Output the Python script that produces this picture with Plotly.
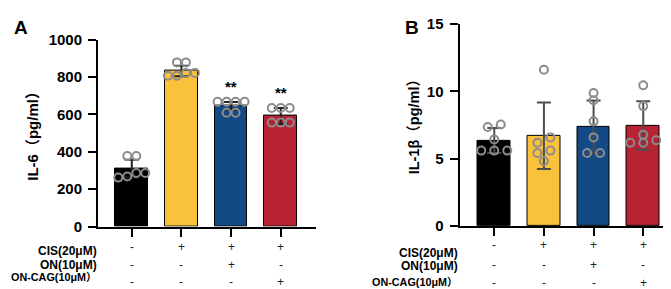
import plotly.graph_objects as go

# ---------------- data ----------------
GROUPS = ["Control", "CIS", "CIS+ON", "CIS+ON-CAG"]
IL6_MEAN = [310, 832, 646, 591]
IL6_SD = [48, 28, 20, 43]
IL6_POINTS = [
    [262, 287, 268, 287, 377, 377],
    [807, 822, 807, 822, 878, 878],
    [668, 668, 668, 668, 609, 609],
    [634, 634, 634, 556, 556, 556],
]
IL1B_MEAN = [6.35, 6.70, 7.38, 7.47]
IL1B_SD = [0.93, 2.47, 1.93, 1.80]
IL1B_POINTS = [
    [5.60, 5.60, 5.60, 6.42, 7.35, 7.54],
    [11.60, 6.58, 6.19, 5.60, 5.42, 4.83],
    [9.87, 9.33, 7.77, 6.58, 5.42, 5.42],
    [10.45, 8.90, 6.19, 6.37, 6.77, 6.19],
]
SIG_A = ["", "", "**", "**"]
ROW_LABELS = ["CIS(20μM)", "ON(10μM)", "ON-CAG(10μM）"]
ROW_SIGNS = [
    ["-", "+", "+", "+"],
    ["-", "-", "+", "-"],
    ["-", "-", "-", "+"],
]
YTITLE_A = "IL-6（pg/ml）"
YTITLE_B = "IL-1β（pg/ml）"

# ---------------- style / layout ----------------
W, H = 671, 289
COLORS = ["#000000", "#FAC13C", "#134A86", "#B82232"]
PT_COLOR = "#8C8C8C"
FONT = "Liberation Sans, Arial, Noto Sans CJK SC, sans-serif"

A_X = (90, 308); A_Y = (24, 222.7); A_XR = [-0.68, 3.71]; A_YR = [0, 1000]
B_X = (451.5, 670); B_Y = (7.3, 222.2); B_XR = [-0.70, 3.70]; B_YR = [0, 15]
ROW_FONT_SIZES = [12, 12, 10.8]


def px_x(p):
    return p / W


def px_y(p):
    return 1 - p / H


def swarm(values, px_per_unit, px_per_cat, eps_px, step_px):
    """Row-based swarm: values close in pixel space share a centred row."""
    order = sorted(range(len(values)), key=lambda i: values[i])
    offs = [0.0] * len(values)
    rows, cur = [], []
    for i in order:
        if cur and (values[i] - values[cur[0]]) * px_per_unit >= eps_px:
            rows.append(cur)
            cur = []
        cur.append(i)
    if cur:
        rows.append(cur)
    for r in rows:
        n = len(r)
        for k, i in enumerate(r):
            offs[i] = (k - (n - 1) / 2) * step_px / px_per_cat
    return offs


fig = go.Figure()


def add_panel(means, sds, points, xa, ya, xdom, ydom, xr, yr, err_color, step_px):
    px_unit = (ydom[1] - ydom[0]) / (yr[1] - yr[0])
    px_cat = (xdom[1] - xdom[0]) / (xr[1] - xr[0])
    xs = list(range(len(means)))
    fig.add_trace(go.Bar(
        x=xs, y=means, width=0.66, xaxis=xa, yaxis=ya,
        marker=dict(color=COLORS, line=dict(color="#000000", width=1)),
        error_y=dict(type="data", array=sds, visible=True, color=err_color,
                     thickness=2, width=7),
        showlegend=False, hoverinfo="skip",
    ))
    for gi, vals in enumerate(points):
        offs = swarm(vals, px_unit, px_cat, 6, step_px)
        fig.add_trace(go.Scatter(
            x=[gi + o for o in offs], y=vals, mode="markers",
            xaxis=xa, yaxis=ya, cliponaxis=False, showlegend=False,
            marker=dict(symbol="circle-open", size=8, color=PT_COLOR,
                        line=dict(width=2)),
        ))


add_panel(IL6_MEAN, IL6_SD, IL6_POINTS, "x", "y", A_X, A_Y, A_XR, A_YR, "#222222", 9)
add_panel(IL1B_MEAN, IL1B_SD, IL1B_POINTS, "x2", "y2", B_X, B_Y, B_XR, B_YR, "#4D4D4D", 13)

axis_common = dict(showline=True, linecolor="#000000", linewidth=2,
                   ticks="outside", tickwidth=2, tickcolor="#000000",
                   showgrid=False, zeroline=False)
tickfont = dict(family=FONT, size=15, color="#000000", weight="bold")

fig.update_layout(
    width=W, height=H, margin=dict(l=0, r=0, t=0, b=0),
    paper_bgcolor="white", plot_bgcolor="white", bargap=0,
    xaxis=dict(domain=[px_x(A_X[0]), px_x(A_X[1])], range=A_XR,
               tickvals=[0, 1, 2, 3], showticklabels=False, ticklen=8,
               anchor="y", **axis_common),
    yaxis=dict(domain=[px_y(A_Y[1]), px_y(A_Y[0])], range=A_YR, dtick=200,
               ticklen=8, tickfont=tickfont, ticklabelstandoff=3, anchor="x",
               **axis_common),
    xaxis2=dict(domain=[px_x(B_X[0]), px_x(B_X[1])], range=B_XR,
                tickvals=[0, 1, 2, 3], showticklabels=False, ticklen=8,
                anchor="y2", **axis_common),
    yaxis2=dict(domain=[px_y(B_Y[1]), px_y(B_Y[0])], range=B_YR, dtick=5,
                ticklen=8, tickfont=tickfont, ticklabelstandoff=3, anchor="x2",
                **axis_common),
)

ann = []
bold = lambda s: dict(family=FONT, size=s, color="#000000", weight="bold")
# panel letters
ann.append(dict(text="A", x=px_x(13), y=px_y(11.5), xref="paper", yref="paper",
                showarrow=False, font=bold(19), xanchor="center", yanchor="middle"))
ann.append(dict(text="B", x=px_x(404), y=px_y(11), xref="paper", yref="paper",
                showarrow=False, font=bold(19), xanchor="center", yanchor="middle"))
# y titles
ann.append(dict(text=YTITLE_A, x=px_x(25), y=px_y(123), xref="paper", yref="paper",
                showarrow=False, textangle=-90, font=bold(15),
                xanchor="center", yanchor="middle"))
ann.append(dict(text=YTITLE_B, x=px_x(406), y=px_y(113), xref="paper", yref="paper",
                showarrow=False, textangle=-90, font=bold(14.5),
                xanchor="center", yanchor="middle"))
# significance
for i, s in enumerate(SIG_A):
    if s:
        ann.append(dict(text=s, x=i, y=IL6_MEAN[i] + IL6_SD[i], xref="x", yref="y",
                        showarrow=False, font=bold(15), yanchor="bottom", yshift=5))
# treatment table
LBL_Y = {"A": [248.3, 263.3, 276.7], "B": [250.7, 265.0, 281.7]}
SGN_Y = {"A": [244.5, 263.3, 281.7], "B": [242.7, 263.3, 282.3]}
for panel, xref, right in (("A", "x", 91), ("B", "x2", 451.7)):
    for r, lab in enumerate(ROW_LABELS):
        ann.append(dict(text=lab, x=px_x(right), y=px_y(LBL_Y[panel][r]),
                        xref="paper", yref="paper", showarrow=False,
                        font=bold(ROW_FONT_SIZES[r]), xanchor="right",
                        yanchor="middle"))
        for gi, sg in enumerate(ROW_SIGNS[r]):
            ann.append(dict(text=sg, x=gi, y=px_y(SGN_Y[panel][r]),
                            xref=xref, yref="paper", showarrow=False,
                            font=dict(family=FONT, size=12, color="#222222"),
                            xanchor="center", yanchor="middle"))
fig.update_layout(annotations=ann)

fig.write_html("out.html")
